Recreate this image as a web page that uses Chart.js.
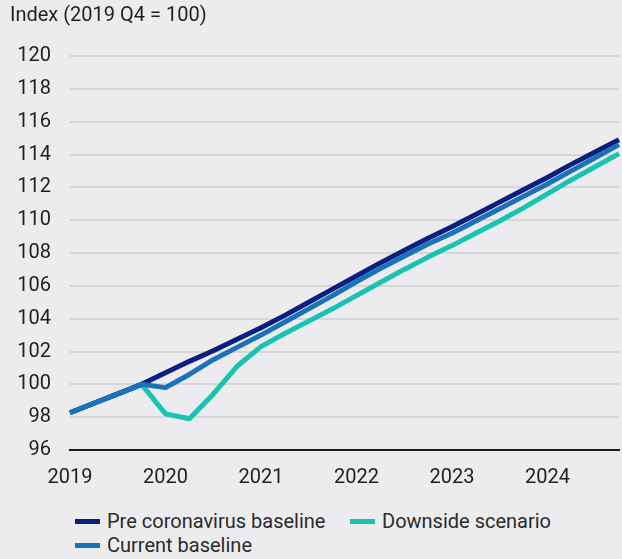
<!DOCTYPE html>
<html>
<head>
<meta charset="utf-8">
<title>Index (2019 Q4 = 100)</title>
<script src="https://cdn.jsdelivr.net/npm/chart.js"></script>
<style>
  html, body { margin: 0; padding: 0; background: #ececee; }
  #contenedor { position: relative; width: 622px; height: 559px; background: #ececee; font-family: Roboto, sans-serif; }
  #grafico { position: absolute; left: 0; top: 0; }
  #leyenda { position: absolute; left: 75px; top: 509px; display: grid; grid-template-columns: 275px auto; font-size: 20px; line-height: 24px; color: #2b2b2b; }
  .item { display: flex; align-items: center; white-space: nowrap; }
  .muestra { display: inline-block; width: 25px; height: 5px; margin-right: 7px; }
</style>
</head>
<body>
<div id="contenedor">
  <canvas id="grafico" width="622" height="505"></canvas>
  <div id="leyenda"></div>
</div>
<script>
// Etiquetas del eje x (un año cada 4 trimestres)
const anios = ['2019', '2020', '2021', '2022', '2023', '2024'];
const trimestres = ['Q1', 'Q2', 'Q3', 'Q4'];
const ticksY = [96, 98, 100, 102, 104, 106, 108, 110, 112, 114, 116, 118, 120];

// Series trimestrales, 2019 Q1 a 2024 Q4
const basePreCovid = [98.27, 98.85, 99.42, 100.0, 100.7, 101.4, 102.05, 102.75,
  103.45, 104.2, 105.0, 105.8, 106.6, 107.4, 108.15, 108.9,
  109.6, 110.35, 111.1, 111.85, 112.6, 113.4, 114.15, 114.9];
const baseActual = [98.27, 98.85, 99.42, 100.0, 99.8, 100.6, 101.5, 102.25,
  103.0, 103.8, 104.6, 105.4, 106.25, 107.05, 107.8, 108.55,
  109.2, 109.95, 110.7, 111.45, 112.2, 113.0, 113.8, 114.6];
const escenarioAdverso = [98.27, 98.85, 99.42, 100.0, 98.2, 97.9, 99.4, 101.1,
  102.3, 103.1, 103.85, 104.6, 105.4, 106.2, 107.0, 107.75,
  108.45, 109.2, 109.95, 110.75, 111.6, 112.45, 113.25, 114.05];

const colorPre = '#0b1f80';
const colorActual = '#1a72b8';
const colorAdverso = '#17c3b2';

// categorias: "2019 Q1" ... "2024 Q4"
const categorias = [];
anios.forEach(function (a) {
  trimestres.forEach(function (t) { categorias.push(a + ' ' + t); });
});

Chart.defaults.font.family = 'Roboto, sans-serif';
Chart.defaults.font.size = 20;
Chart.defaults.color = '#1f1f1f';

// el primer dataset se dibuja encima de los demas
const datasets = [
  { label: 'Current baseline', data: baseActual, borderColor: colorActual, backgroundColor: colorActual },
  { label: 'Pre coronavirus baseline', data: basePreCovid, borderColor: colorPre, backgroundColor: colorPre },
  { label: 'Downside scenario', data: escenarioAdverso, borderColor: colorAdverso, backgroundColor: colorAdverso }
];

const ctx = document.getElementById('grafico');
const grafico = new Chart(ctx, {
  type: 'line',
  data: { labels: categorias, datasets: datasets },
  options: {
    responsive: false,
    animation: false,
    layout: { padding: { left: 10, right: 3, top: 0, bottom: 15 } },
    elements: {
      point: { radius: 0 },
      line: { borderWidth: 5, tension: 0, borderJoinStyle: 'round' }
    },
    plugins: {
      legend: { display: false },
      tooltip: { enabled: false },
      title: {
        display: true,
        text: 'Index (2019 Q4 = 100)',
        align: 'start',
        color: '#1f1f1f',
        font: { size: 20, weight: 'normal' },
        padding: { top: 4, bottom: 28 }
      }
    },
    scales: {
      x: {
        // la separacion de las etiquetas va en tickLength (padding agrega margen a la derecha)
        grid: { display: false, drawTicks: true, tickLength: 16, color: 'transparent' },
        border: { display: true, color: '#1a1a1a', width: 2 },
        ticks: {
          autoSkip: false,
          maxRotation: 0,
          padding: 0,
          callback: function (valor, i) {
            return i % 4 === 0 ? anios[i / 4] : '';
          }
        }
      },
      y: {
        min: ticksY[0],
        max: ticksY[ticksY.length - 1],
        ticks: { stepSize: 2, padding: 19 },
        grid: { color: '#d6d6d8', lineWidth: 2, drawTicks: false },
        border: { display: false },
        afterFit: function (eje) { eje.width = 60; }
      }
    }
  }
});

// Leyenda en html, en el orden de la publicacion
function armarLeyenda(chart, orden) {
  const cont = document.getElementById('leyenda');
  orden.forEach(function (idx) {
    const ds = chart.data.datasets[idx];
    const item = document.createElement('div');
    item.className = 'item';
    const muestra = document.createElement('span');
    muestra.className = 'muestra';
    muestra.style.background = ds.borderColor;
    item.appendChild(muestra);
    item.appendChild(document.createTextNode(ds.label));
    cont.appendChild(item);
  });
}

armarLeyenda(grafico, [1, 2, 0]);
</script>
</body>
</html>
